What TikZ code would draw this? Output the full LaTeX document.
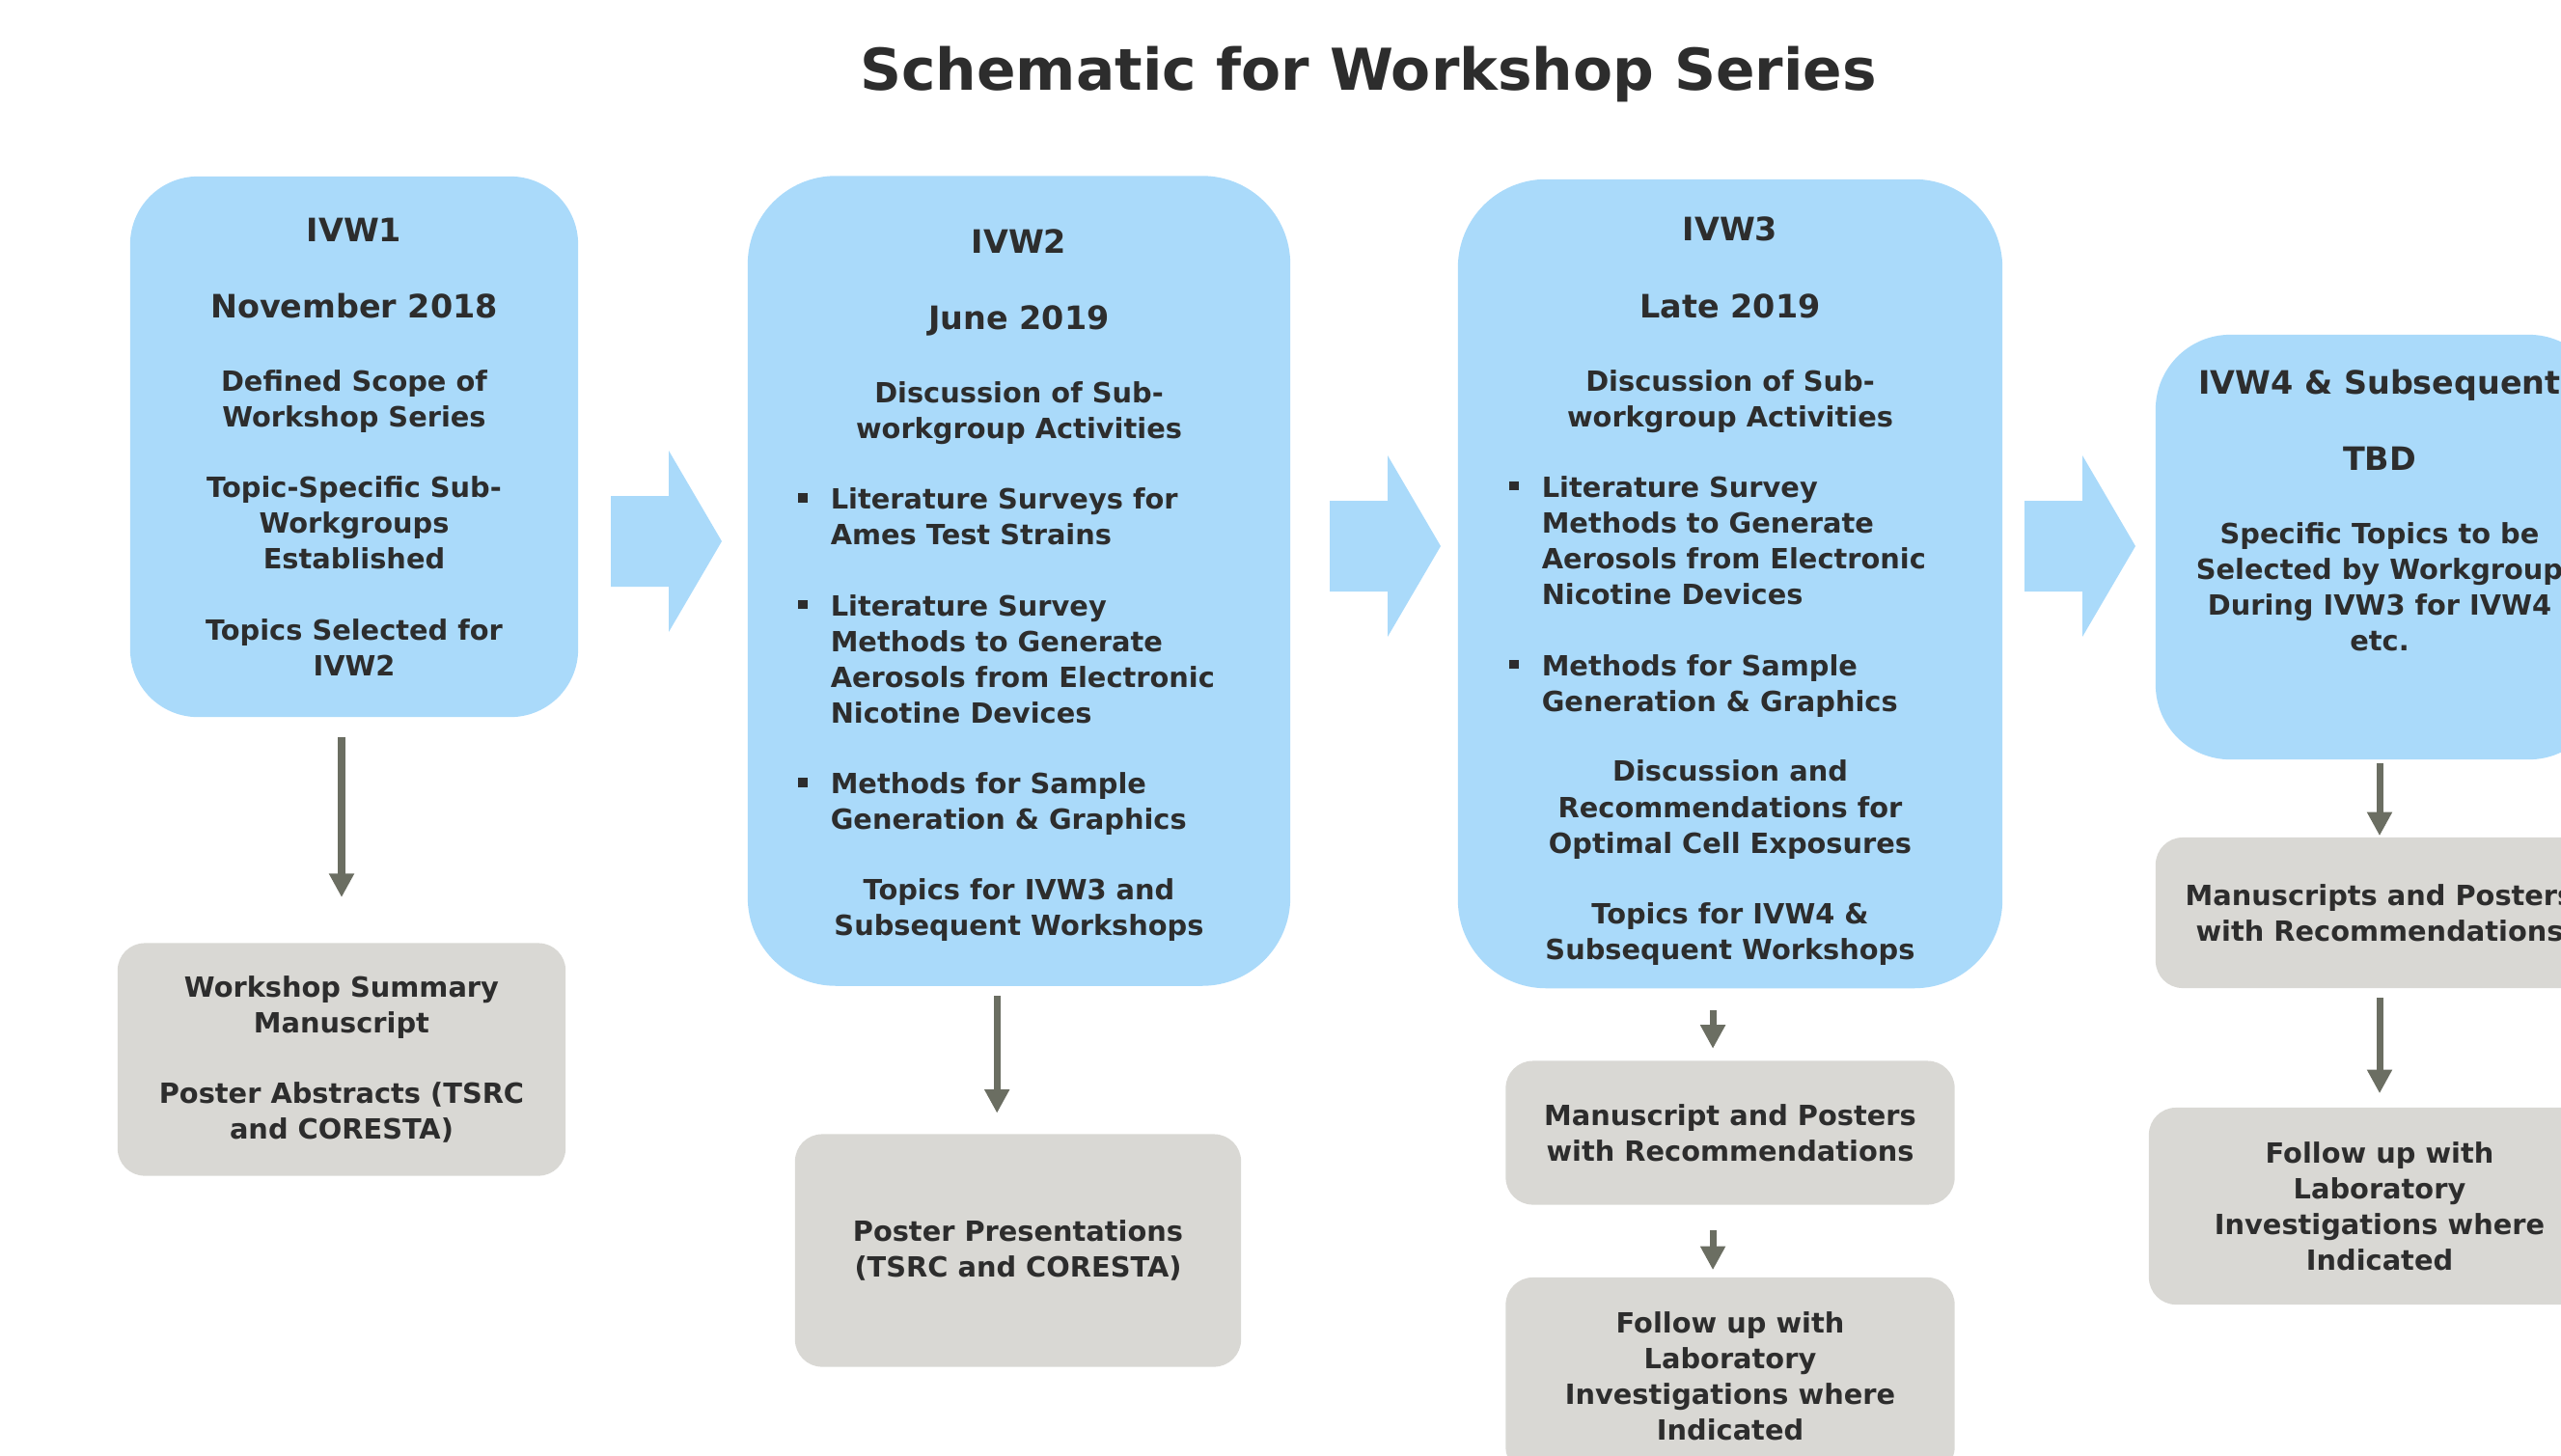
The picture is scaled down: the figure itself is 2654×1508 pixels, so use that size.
\documentclass[tikz,border=0pt]{standalone}
\usepackage{fontspec}
\setmainfont{DejaVu Sans}
\usetikzlibrary{arrows.meta}

\definecolor{boxblue}{RGB}{170,218,250}
\definecolor{boxgray}{RGB}{217,216,212}
\definecolor{arrowgray}{RGB}{107,110,98}
\definecolor{textdark}{RGB}{45,45,45}

% bigger line for workshop name and date
\newcommand\hd[1]{{\fontsize{9.5}{10.55}\selectfont #1}}
\newcommand\sqbullet{\raisebox{2pt}{\rule{2.7pt}{2.7pt}}}

\begin{document}
\begin{tikzpicture}
[x=0.01cm,y=-0.01cm,
  bluebox/.style={fill=boxblue,rounded corners=#1,align=center,inner sep=0pt,
    text=textdark,font=\fontsize{8.2}{10.55}\selectfont\bfseries},
  bluebox/.default=20pt,
  graybox/.style={fill=boxgray,rounded corners=8pt,align=center,inner sep=0pt,
    text=textdark,font=\fontsize{8.2}{10.55}\selectfont\bfseries},
  outarrow/.style={-{Triangle[width=7pt,length=7pt]},line width=2pt,draw=arrowgray},
  blockarrow/.style={fill=boxblue}]
\useasboundingbox (0,0) rectangle (2654,1508);

%% title
\node (title) at (1418,93) [anchor=base,text=textdark,
  font=\fontsize{17}{20}\selectfont\bfseries] {Schematic for Workshop Series};

%% workshops
\node (ivw1) at (367,463) [bluebox=20pt,minimum width=4.64cm,minimum height=5.6cm]
{\hd{IVW1}\\[12pt]
 \hd{November 2018}\\[11pt]
 Defined Scope of\\Workshop Series\\[10.3pt]
 Topic-Specific Sub-\\Workgroups\\Established\\[10.3pt]
 Topics Selected for\\IVW2};

\node (ivw2) at (1056,602) [bluebox=26pt,minimum width=5.62cm,minimum height=8.39cm]
{\rule{0pt}{9.7pt}\hd{IVW2}\\[12pt]
 \hd{June 2019}\\[11pt]
 Discussion of Sub-\\workgroup Activities\\[10.3pt]
 \begin{tabular}[t]{@{}l@{\hspace{6.9pt}}l@{\hspace{7.4pt}}}
 \sqbullet & Literature Surveys for\\
   & Ames Test Strains\\[10.3pt]
 \sqbullet & Literature Survey\\
   & Methods to Generate\\
   & Aerosols from Electronic\\
   & Nicotine Devices\\[10.3pt]
 \sqbullet & Methods for Sample\\
   & Generation \& Graphics
 \end{tabular}\\[10.3pt]
 Topics for IVW3 and\\Subsequent Workshops};

\node (ivw3) at (1793,605) [bluebox=26pt,minimum width=5.64cm,minimum height=8.38cm]
{\rule{0pt}{11.5pt}\hd{IVW3}\\[12pt]
 \hd{Late 2019}\\[11pt]
 Discussion of Sub-\\workgroup Activities\\[10.3pt]
 \begin{tabular}[t]{@{}l@{\hspace{6.9pt}}l@{\hspace{7.4pt}}}
 \sqbullet & Literature Survey\\
   & Methods to Generate\\
   & Aerosols from Electronic\\
   & Nicotine Devices\\[10.3pt]
 \sqbullet & Methods for Sample\\
   & Generation \& Graphics
 \end{tabular}\\[10.3pt]
 Discussion and\\Recommendations for\\Optimal Cell Exposures\\[10.3pt]
 Topics for IVW4 \&\\Subsequent Workshops};

\node (ivw4) at (2466,567) [bluebox=22pt,minimum width=4.64cm,minimum height=4.4cm]
{\hd{IVW4 \& Subsequent}\\[12pt]
 \hd{TBD}\\[11pt]
 Specific Topics to be\\Selected by Workgroup\\During IVW3 for IVW4\\
 etc.\rule[-21.6pt]{0pt}{0pt}};

%% outputs
\node (out1) at (354,1098) [graybox,minimum width=4.64cm,minimum height=2.41cm]
{Workshop Summary\\Manuscript\\[10.3pt]Poster Abstracts (TSRC\\and CORESTA)};
\node (out2) at (1055,1296) [graybox,minimum width=4.62cm,minimum height=2.41cm]
{Poster Presentations\\(TSRC and CORESTA)};
\node (out3a) at (1793,1174) [graybox,minimum width=4.65cm,minimum height=1.49cm]
{Manuscript and Posters\\with Recommendations};
\node (out3b) at (1793,1426) [graybox,minimum width=4.65cm,minimum height=2.04cm]
{Follow up with\\Laboratory\\Investigations where\\Indicated};
\node (out4a) at (2466,946) [graybox,minimum width=4.64cm,minimum height=1.56cm]
{Manuscripts and Posters\\with Recommendations};
\node (out4b) at (2466,1250) [graybox,minimum width=4.78cm,minimum height=2.04cm]
{Follow up with\\Laboratory\\Investigations where\\Indicated};

%% big arrows between workshops
\foreach \x/\y in {633/561, 1378/566, 2098/566}
{
  \fill[blockarrow] (\x,\y-47) -- ++(60,0) -- ++(0,-47) -- ++(55,94)
    -- ++(-55,94) -- ++(0,-47) -- ++(-60,0) -- cycle;
}

%% arrows down to the outputs
\foreach \from/\to/\dx/\s/\e in {ivw1/out1/0/5.7/13.3, ivw2/out2/-6.2/2.8/6,
  ivw3/out3a/-5.1/6.2/3.4, out3a/out3b/-5.1/7.4/2, ivw4/out4a/0/0.9/0.3,
  out4a/out4b/0/2.6/4}
{
  \draw[outarrow,shorten <=\s pt,shorten >=\e pt]
    ([xshift=\dx pt]\to.north |- \from.south) -- ([xshift=\dx pt]\to.north);
}
\end{tikzpicture}
\end{document}
